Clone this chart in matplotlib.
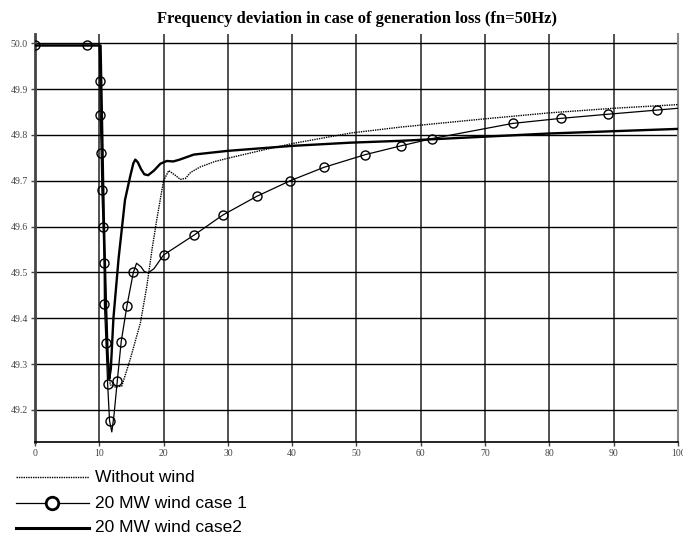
import matplotlib
matplotlib.use('Agg')
import matplotlib.pyplot as plt
from matplotlib.lines import Line2D

# time axis (s) and frequency (Hz)
t_nowind = [0, 8, 10.0, 10.2, 10.5, 10.9, 11.3, 11.7, 12.5, 13.5, 14.8, 16.4,
            17.4, 18.2, 19.0, 20.0, 20.8, 21.8, 22.6, 23.4, 24.2, 25.7, 28.0,
            30.9, 35.5, 40.0, 49.1, 56.9, 70.0, 80.0, 90.0, 100.0]
f_nowind = [49.995, 49.995, 49.995, 49.93, 49.75, 49.50, 49.32, 49.255, 49.25,
            49.252, 49.31, 49.39, 49.47, 49.55, 49.62, 49.70, 49.722, 49.712,
            49.703, 49.705, 49.718, 49.730, 49.742, 49.752, 49.767, 49.781,
            49.804, 49.817, 49.835, 49.848, 49.858, 49.866]

t_case1 = [0, 8.1, 10.0, 10.1, 10.15, 10.3, 10.4, 10.6, 10.75, 10.8, 11.05,
           11.3, 11.6, 11.95, 12.3, 12.8, 13.4, 14.3, 15.3, 15.8, 16.5, 17.0,
           17.6, 18.5, 20.0, 24.7, 29.2, 34.5, 39.7, 44.9, 51.4, 56.9, 61.8,
           74.3, 81.8, 89.1, 96.7, 100.0]
f_case1 = [49.995, 49.995, 49.995, 49.918, 49.843, 49.760, 49.680, 49.600,
           49.521, 49.430, 49.346, 49.257, 49.176, 49.152, 49.19, 49.263,
           49.348, 49.427, 49.500, 49.520, 49.512, 49.502, 49.499, 49.508,
           49.538, 49.581, 49.625, 49.666, 49.700, 49.729, 49.757, 49.776,
           49.792, 49.825, 49.836, 49.845, 49.854, 49.858]
# circle markers sit on these points of case 1
mk_case1 = [0, 8.1, 10.1, 10.15, 10.3, 10.4, 10.6, 10.75, 10.8, 11.05, 11.3,
            11.6, 12.8, 13.4, 14.3, 15.3, 20.0, 24.7, 29.2, 34.5, 39.7, 44.9,
            51.4, 56.9, 61.8, 74.3, 81.8, 89.1, 96.7]

t_case2 = [0, 8, 10.2, 10.4, 10.7, 11.0, 11.3, 11.55, 11.8, 12.2, 13.0, 14.0,
           14.8, 15.3, 15.6, 16.0, 16.5, 17.0, 17.6, 18.5, 19.5, 20.5, 21.5,
           22.5, 24.7, 29.9, 40.0, 49.1, 56.9, 80.0, 100.0]
f_case2 = [49.995, 49.995, 49.995, 49.85, 49.62, 49.45, 49.32, 49.268, 49.29,
           49.40, 49.53, 49.658, 49.709, 49.738, 49.746, 49.740, 49.725,
           49.714, 49.712, 49.722, 49.737, 49.743, 49.742, 49.746, 49.757,
           49.765, 49.776, 49.783, 49.787, 49.803, 49.813]

x_ticks = list(range(0, 101, 10))
y_ticks = [49.2, 49.3, 49.4, 49.5, 49.6, 49.7, 49.8, 49.9, 50.0]
legend_labels = ['Without wind', '20 MW wind case 1', '20 MW wind case2']

fig = plt.figure(figsize=(6.83, 5.38), dpi=100)
ax = fig.add_axes([0.0512, 0.1784, 0.9415, 0.7584])

# Grid lines first so the curves sit on top
for x in x_ticks[1:]:
    ax.axvline(x, color='#333333', lw=1.2, zorder=1)
for y in y_ticks:
    ax.axhline(y, color='black', lw=1.0, zorder=1)

ax.plot(t_nowind, f_nowind, color='black', lw=1.0, ls=(0, (1, 0.7)), zorder=3)
ax.plot(t_case1, f_case1, color='black', lw=0.9, zorder=3)
mk_idx = [t_case1.index(v) for v in mk_case1]
ax.plot(t_case1, f_case1, ls='none', marker='o', markevery=mk_idx,
        markersize=6.5, mfc='none', mec='black', mew=1.0, zorder=4)
ax.plot(t_case2, f_case2, color='black', lw=1.7, zorder=3)

ax.set_xlim(0, 100)
ax.set_ylim(49.13, 50.02)
ax.set_xticks(x_ticks)
ax.set_yticks(y_ticks)
ax.set_xticklabels([str(v) for v in x_ticks])
ax.set_yticklabels(['%.1f' % v for v in y_ticks])
for lab in ax.get_xticklabels() + ax.get_yticklabels():
    lab.set_family('Liberation Serif')
    lab.set_fontsize(7)
    lab.set_color('#444444')
ax.tick_params(length=3, width=1, pad=2, colors='#444444')

ax.spines['top'].set_visible(False)
ax.spines['left'].set_color('#444444')
ax.spines['left'].set_linewidth(2)
ax.spines['right'].set_color('#888888')
ax.spines['right'].set_linewidth(1.5)
ax.spines['bottom'].set_linewidth(1.2)

fig.text(0.523, 0.964, 'Frequency deviation in case of generation loss (fn=50Hz)',
         ha='center', va='center', family='Liberation Serif',
         fontsize=12, fontweight='bold')

# Legend drawn by hand below the plot
leg_y = [0.113, 0.065, 0.019]
styles = [dict(ls=(0, (1, 0.7)), lw=1.0), dict(ls='-', lw=0.9),
          dict(ls='-', lw=2.2)]
for yy, lab, st in zip(leg_y, legend_labels, styles):
    fig.add_artist(Line2D([0.024, 0.131], [yy, yy], color='black', **st))
    fig.text(0.139, yy, lab, ha='left', va='center',
             family='Liberation Sans', fontsize=12.5)
fig.add_artist(Line2D([0.0765], [leg_y[1]], marker='o', markersize=9,
                      mfc='white', mec='black', mew=2.0))

fig.savefig('out.png', dpi=100)
